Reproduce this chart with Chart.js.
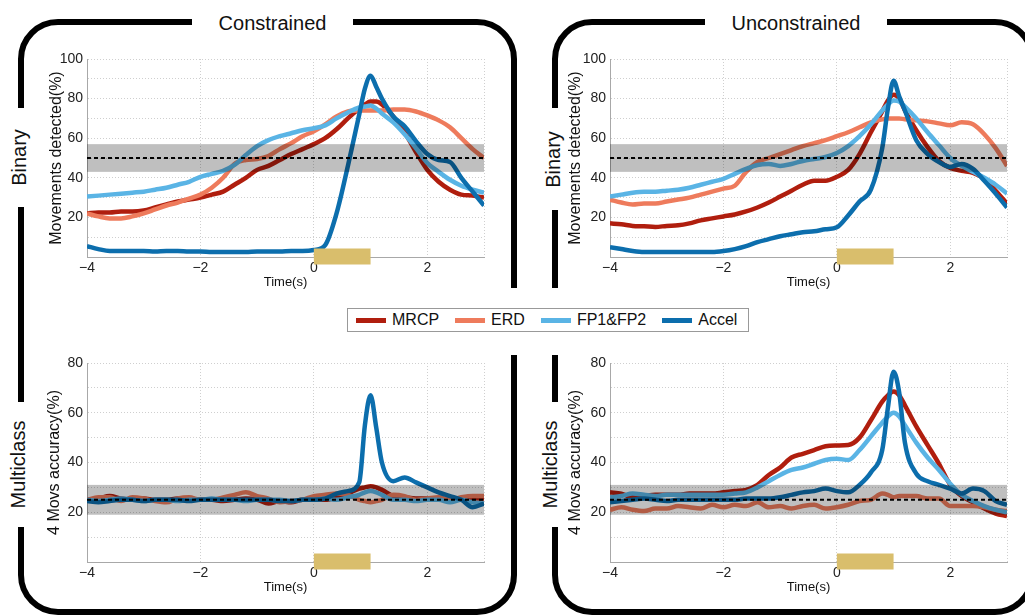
<!DOCTYPE html>
<html>
<head>
<meta charset="utf-8">
<script src="https://cdn.jsdelivr.net/npm/chart.js@4.4.1/dist/chart.umd.min.js"></script>
<style>
  body { margin: 0; width: 1025px; height: 616px; overflow: hidden; background: #fff;
         font-family: "Liberation Sans", Arial, sans-serif; position: relative; }
  .frame { position: absolute; border: 6px solid #000; border-radius: 40px; box-sizing: border-box; }
  .lbl { position: absolute; background: #fff; display: flex; align-items: center;
         justify-content: center; font-size: 20px; color: #111; }
  .lbl.v span { display: block; transform: rotate(-90deg); white-space: nowrap; }
  canvas { position: absolute; }
  #legend { position: absolute; left: 347px; top: 308px; width: 402px; height: 24px;
            box-sizing: border-box; border: 1px solid #999; background: #fff;
            display: flex; align-items: center; padding-left: 8px; font-size: 16px; color: #111; }
  #legend .item { display: flex; align-items: center; margin-right: 16px; }
  #legend .sw { width: 30px; height: 5px; margin-right: 6px; }
</style>
</head>
<body>
<div class="frame" style="left:18px;top:19px;width:499px;height:596px"></div>
<div class="frame" style="left:552px;top:19px;width:483px;height:596px"></div>

<div class="lbl" style="left:192px;top:9px;width:161px;height:28px">Constrained</div>
<div class="lbl" style="left:705px;top:9px;width:182px;height:28px">Unconstrained</div>
<div class="lbl v" style="left:8px;top:108px;width:22px;height:99px"><span>Binary</span></div>
<div class="lbl v" style="left:8px;top:402px;width:22px;height:125px"><span>Multiclass</span></div>
<div class="lbl v" style="left:542px;top:108px;width:22px;height:102px"><span>Binary</span></div>
<div class="lbl v" style="left:540px;top:402px;width:22px;height:125px"><span>Multiclass</span></div>
<div class="lbl" style="left:505px;top:288px;width:60px;height:67px"></div>
<div id="legend"></div>

<canvas id="conBin" width="470" height="254" style="left:26px;top:44px"></canvas>
<canvas id="unconBin" width="470" height="254" style="left:549px;top:44px"></canvas>
<canvas id="conMulti" width="470" height="255" style="left:26px;top:348px"></canvas>
<canvas id="unconMulti" width="470" height="255" style="left:549px;top:348px"></canvas>

<script>
// time axis (s), sampled every 0.2 s, finer around the peak
const TIME = [-4, -3.8, -3.6, -3.4, -3.2, -3, -2.8, -2.6, -2.4, -2.2, -2, -1.8, -1.6, -1.4, -1.2, -1,
  -0.8, -0.6, -0.4, -0.2, 0, 0.2, 0.4, 0.6, 0.8, 0.9, 1, 1.1, 1.2, 1.4, 1.6, 1.8, 2, 2.2, 2.4, 2.6, 2.8, 3];

const SERIES_NAMES = ['MRCP', 'ERD', 'FP1&FP2', 'Accel'];
const SERIES_COLORS = ['#B01E0E', '#EE7B5C', '#5AB4E5', '#0C6EAD'];

const X_LABELS = [-4, -2, 0, 2];
const Y_LABELS_BINARY = [20, 40, 60, 80, 100];
const Y_LABELS_MULTI = [20, 40, 60, 80];

const BINARY_CHANCE = 50, BINARY_BAND = [43, 57];
const MULTI_CHANCE = 25, MULTI_BAND = [19, 31];
const STIM = [0, 1];

// Constrained, binary
const conBinMRCP = [22, 22.5, 22.5, 23, 23, 23.5, 25, 26.5, 28, 29, 30, 31.5, 33, 36.5, 40, 44,
  46, 49, 52, 54.5, 57, 60, 64.5, 70, 75, 77, 78.5, 78.5, 77, 71, 63, 53, 44, 38, 34, 31.5, 31, 30];
const conBinERD = [22, 20.5, 19.5, 19.5, 20.5, 22, 24, 26, 27.5, 29.5, 31.5, 35, 40, 47, 49, 49.5,
  51, 54.5, 57.5, 61, 63.5, 67, 71, 73.5, 74, 74, 74, 74, 74, 74.5, 74.5, 73.5, 71.5, 69, 65.5, 60, 54.5, 50];
const conBinFP = [30.5, 31, 31.5, 32, 32.5, 33, 34, 35, 36.5, 38, 40.5, 42, 43.5, 46.5, 51.5, 56,
  59, 61, 62.5, 64, 65, 66.5, 70, 73, 75.5, 76, 76.5, 75, 72.5, 68, 62, 55, 47.5, 43, 39, 36, 34, 32.5];
const conBinAccel = [5.5, 4, 3, 3, 3, 3, 2.8, 3, 3, 2.8, 2.8, 2.5, 2.5, 2.5, 2.5, 2.8,
  2.8, 2.8, 3, 3, 3.5, 6, 22, 46, 72, 85, 91.5, 86, 80, 71, 66, 58.5, 52, 49, 48, 40, 33, 26];

// Unconstrained, binary
const unconBinMRCP = [17, 16.5, 15.7, 15.5, 15.2, 15.7, 16, 17, 18.5, 19.5, 20.5, 21.5, 23, 25, 27.5, 30.5,
  33.5, 36.5, 38.5, 38.5, 40.5, 44, 52, 63, 73.5, 79, 82, 80, 74, 64, 55.5, 48.5, 45, 43.5, 42.5, 39.5, 33.5, 27];
const unconBinERD = [29, 27.5, 26.5, 27, 27, 28, 29, 30, 31.5, 33, 34.5, 36, 43, 48, 50, 52,
  54, 56, 57.5, 59, 61, 63, 65.5, 68, 69.5, 70, 70, 70, 69.5, 69, 68.5, 67.5, 66.5, 68, 67, 62, 55, 46];
const unconBinFP = [30.5, 31.5, 32.5, 33, 33, 33.5, 34, 35, 36.5, 38, 39.5, 42, 44.5, 46.5, 47, 46,
  47, 48.5, 49.5, 50.5, 52.5, 56, 61, 67, 74, 77, 79, 78.5, 76, 70, 63, 56.5, 50, 46, 43, 40, 36.5, 32];
const unconBinAccel = [5, 4, 3, 2.5, 2.5, 2.5, 2.5, 2.5, 2.5, 2.5, 3, 4, 5.5, 7.5, 9, 10.5,
  11.5, 12.5, 13, 14, 15, 21, 28, 34, 55, 75, 89, 81, 74, 59, 52, 48, 45.5, 47, 44.5, 38.5, 32, 25];

// Constrained, multiclass
const conMultiMRCP = [25, 25.5, 26.5, 25.5, 25, 25.5, 25, 25, 25.5, 25.5, 25, 25, 24.5, 25, 25.5, 25,
  23.5, 24.5, 24, 25, 25, 25, 26, 27.5, 29.5, 30, 30.5, 30, 29, 26.5, 26, 25.5, 25.5, 25, 25, 25.5, 25.5, 25.5];
const conMultiERD = [25, 26, 26, 24.5, 26, 25.5, 24.5, 24, 25.5, 26, 25, 25, 26, 27, 28, 26.5,
  25.5, 24, 24.5, 25, 26.5, 27, 27.5, 27, 25, 24.5, 24, 24.5, 25, 27, 26.5, 25, 25.5, 26, 25, 26, 26.5, 26.5];
const conMultiFP = [25, 24.5, 25, 25.5, 25, 24.5, 25, 25, 24.5, 25, 25, 25.5, 25, 25, 24.5, 25,
  25, 25, 24.5, 25, 25, 25.5, 25, 26, 27, 28, 28.5, 28, 27, 25, 25, 24.5, 25, 25, 24, 25, 24, 23.5];
const conMultiAccel = [24.5, 24, 24.5, 25, 25, 24.5, 25, 25, 25, 24.5, 25, 25, 25, 25, 25, 25,
  25, 24.5, 24.5, 25, 25, 25.5, 27.5, 28.5, 32, 55, 67, 54, 40, 32.5, 34, 32, 30, 28, 26.5, 25, 22, 23.5];

// Unconstrained, multiclass
const unconMultiMRCP = [28, 27.5, 26, 26.5, 27, 27, 27, 27.5, 27.5, 27.5, 28, 28.5, 29, 31, 35, 38,
  42, 43.5, 45, 46.5, 46.8, 47, 50, 57, 64.5, 67, 68.5, 67, 63, 54.5, 47, 39.5, 31, 26.5, 24, 21.5, 19.5, 18.5];
const unconMultiERD = [21, 22, 21, 20.5, 21.5, 21.5, 22.5, 22, 21.5, 23, 22, 23, 22.5, 24, 22, 22.5,
  21.5, 22.5, 23, 21.5, 22, 23, 24.5, 25, 27.5, 27, 26, 26.5, 26.5, 26.5, 25.5, 25.5, 22.5, 22.5, 22.5, 22, 21, 20.5];
const unconMultiFP = [26, 26.5, 27.5, 27, 26.5, 27, 27, 27, 27, 27, 27, 27.5, 28, 30, 32.5, 35,
  37, 38, 39.5, 41, 41.5, 41, 45, 50.5, 56, 58.5, 60, 58.5, 55, 48, 42, 37, 31.5, 27, 24.5, 22.5, 21, 20];
const unconMultiAccel = [24, 24.5, 25, 25.5, 25, 24.5, 25, 25, 25, 25, 25, 25, 25.5, 25.5, 25.5, 26,
  27, 28, 28.5, 29.5, 28.5, 28, 31, 36, 45, 62, 76.5, 68, 48, 35.5, 32.5, 31, 29.5, 27.5, 29.5, 28.5, 24.5, 23];

// legend
const legend = document.getElementById('legend');
SERIES_NAMES.forEach((name, i) => {
  const item = document.createElement('div');
  item.className = 'item';
  item.innerHTML = '<div class="sw" style="background:' + SERIES_COLORS[i] + '"></div><span></span>';
  item.querySelector('span').textContent = name;
  legend.appendChild(item);
});

// chance band, chance line and stimulus bar, drawn over the curves
const overlays = {
  id: 'overlays',
  afterDatasetsDraw(chart, args, opts) {
    const { ctx, chartArea: a, scales: { x, y } } = chart;
    ctx.save();
    const yt = y.getPixelForValue(opts.band[1]);
    const yb = y.getPixelForValue(opts.band[0]);
    ctx.fillStyle = 'rgba(0,0,0,0.25)';
    ctx.fillRect(a.left, yt, a.right - a.left, yb - yt);
    const yc = y.getPixelForValue(opts.chance);
    ctx.strokeStyle = '#000';
    ctx.lineWidth = 2;
    ctx.setLineDash([4, 3]);
    ctx.beginPath();
    ctx.moveTo(a.left, yc);
    ctx.lineTo(a.right, yc);
    ctx.stroke();
    ctx.setLineDash([]);
    const x0 = x.getPixelForValue(STIM[0]);
    const x1 = x.getPixelForValue(STIM[1]);
    ctx.fillStyle = '#D9BE6C';
    ctx.fillRect(x0, a.bottom - 8.5, x1 - x0, 16);
    ctx.restore();
  }
};

function makeChart(id, series, yMax, yLabels, yTitle, titlePad, chance, band) {
  new Chart(document.getElementById(id), {
    type: 'line',
    data: {
      datasets: series.map((vals, i) => ({
        label: SERIES_NAMES[i],
        data: TIME.map((t, j) => ({ x: t, y: vals[j] })),
        borderColor: SERIES_COLORS[i],
        borderWidth: 4.5,
        pointRadius: 0,
        cubicInterpolationMode: 'monotone',
        order: series.length - i
      }))
    },
    options: {
      responsive: false,
      animation: false,
      layout: { padding: { top: 15, right: 12, left: 0, bottom: 0 } },
      plugins: {
        legend: { display: false },
        tooltip: { enabled: false },
        overlays: { chance: chance, band: band }
      },
      scales: {
        x: {
          type: 'linear', min: -4, max: 3,
          afterFit: s => { s.height = 41; },
          ticks: {
            stepSize: 2, padding: 3, color: '#222',
            font: { family: 'Liberation Sans', size: 14 },
            callback: v => X_LABELS.includes(v) ? String(v).replace('-', '\u2212') : ''
          },
          grid: { color: '#cfcfcf', drawTicks: false },
          border: { color: '#a8a8a8', dash: [1, 2] },
          title: { display: true, text: 'Time(s)', color: '#111',
                   font: { family: 'Liberation Sans', size: 13 }, padding: { top: 0, bottom: 8 } }
        },
        y: {
          min: 0, max: yMax,
          afterFit: s => { s.width = 61; },
          ticks: {
            stepSize: 10, padding: 4, color: '#222',
            font: { family: 'Liberation Sans', size: 14 },
            callback: v => yLabels.includes(v) ? String(v) : ''
          },
          grid: { color: '#cfcfcf', drawTicks: false },
          border: { color: '#a8a8a8', dash: [1, 2] },
          title: { display: true, text: yTitle, color: '#111',
                   font: { family: 'Liberation Sans', size: 16 }, padding: { top: titlePad, bottom: 0 } }
        }
      }
    },
    plugins: [overlays]
  });
}

makeChart('conBin', [conBinMRCP, conBinERD, conBinFP, conBinAccel], 100, Y_LABELS_BINARY,
  'Movements detected(%)', 21, BINARY_CHANCE, BINARY_BAND);
makeChart('unconBin', [unconBinMRCP, unconBinERD, unconBinFP, unconBinAccel], 100, Y_LABELS_BINARY,
  'Movements detected(%)', 17, BINARY_CHANCE, BINARY_BAND);
makeChart('conMulti', [conMultiMRCP, conMultiERD, conMultiFP, conMultiAccel], 80, Y_LABELS_MULTI,
  '4 Movs accuracy(%)', 19, MULTI_CHANCE, MULTI_BAND);
makeChart('unconMulti', [unconMultiMRCP, unconMultiERD, unconMultiFP, unconMultiAccel], 80, Y_LABELS_MULTI,
  '4 Movs accuracy(%)', 17, MULTI_CHANCE, MULTI_BAND);
</script>
</body>
</html>
